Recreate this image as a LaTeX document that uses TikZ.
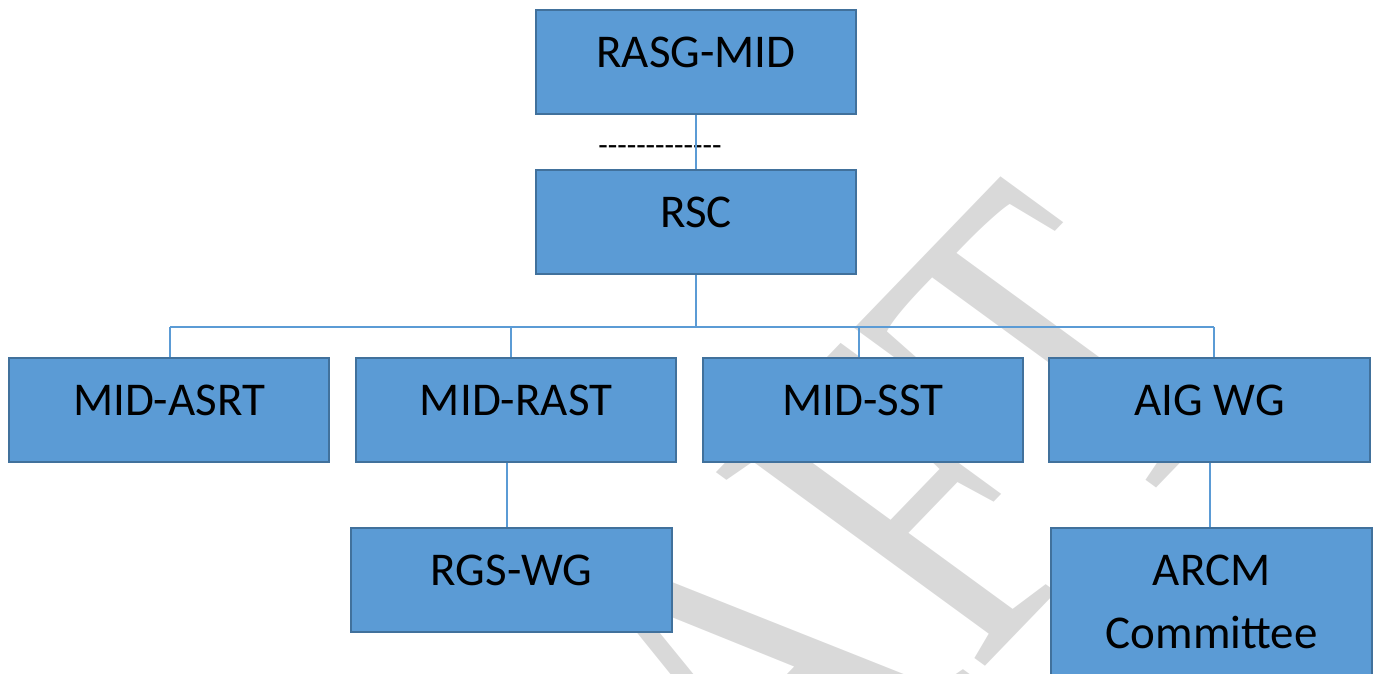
\documentclass[tikz,border=0pt]{standalone}
\usepackage{fontspec}
\usetikzlibrary{backgrounds}
\setmainfont{Carlito}
\newfontfamily\wmfont{Liberation Serif}
\definecolor{boxfill}{HTML}{5B9BD5}
\definecolor{boxline}{HTML}{41719C}
\definecolor{wirecol}{HTML}{5B9BD5}
\definecolor{wmcol}{HTML}{D9D9D9}
\newcommand\hy{-\kern0pt}
\begin{document}
\begin{tikzpicture}[x=1pt,y=-1pt,
  box/.style={draw=boxline, fill=boxfill, line width=2.2pt, rectangle, inner sep=0pt,
    anchor=north west, minimum width=320pt, minimum height=104pt,
    text height=57pt, text depth=47pt, font=\fontsize{47}{63}\selectfont, text=black},
  wire/.style={draw=wirecol, line width=1.6pt},
  wm/.style={text=wmcol, inner sep=0pt, font=\wmfont\fontsize{395}{395}\selectfont}]
\useasboundingbox (0,0) rectangle (1374,673);
\clip (0,0) rectangle (1374,673);
% boxes
\path
  (535,9)    node[box] (rasg) {RASG-MID}
  (535,169)  node[box] (rsc)  {RSC}
  (8,357)    node[box] (asrt) {MID-ASRT}
  (355,357)  node[box] (rast) {MID-RAST}
  (702,357)  node[box] (sst)  {MID-SST}
  (1048,357) node[box, minimum width=321pt] (aig)  {AIG WG}
  (350,527)  node[box, minimum width=321pt] (rgs)  {RGS-WG}
  (1050,527) node[box, minimum width=321pt, text depth=120pt] (arcm)
     {\begin{tabular}[t]{@{}c@{}}ARCM\\Committee\end{tabular}};
\begin{pgfonlayer}{background}
% watermark
\begin{scope}[shift={(440,1231)}]
  \begin{scope}[yscale=0.87]
    \node[wm, transform shape, anchor=base west, rotate=50, yscale=1.35] (wmk) at (0,0) {DRAFT};
  \end{scope}
\end{scope}
% dashed text
\node[inner sep=0pt, anchor=base, font=\fontsize{31}{31}\selectfont] (dash) at (660,155)
  {\hy\hy\hy\hy\hy\hy\hy\hy\hy\hy\hy\hy-};
% connectors
\coordinate (bl) at (170,327);
\coordinate (br) at (1214,327);
\coordinate (d2) at (511,327);
\coordinate (d3) at (859,327);
\coordinate (r1) at (507,470);
\coordinate (r2) at (1210,470);
\draw[wire] (rasg.south) -- (rsc.north);
\draw[wire] (rsc.south) -- (rsc.south |- bl);
\draw[wire] (bl) -- (br);
\draw[wire] (bl) -- (asrt.north -| bl);
\draw[wire] (d2) -- (rast.north -| d2);
\draw[wire] (d3) -- (sst.north -| d3);
\draw[wire] (br) -- (aig.north -| br);
\draw[wire] (rast.south -| r1) -- (rgs.north -| r1);
\draw[wire] (aig.south -| r2) -- (arcm.north -| r2);
\end{pgfonlayer}
\end{tikzpicture}
\end{document}
